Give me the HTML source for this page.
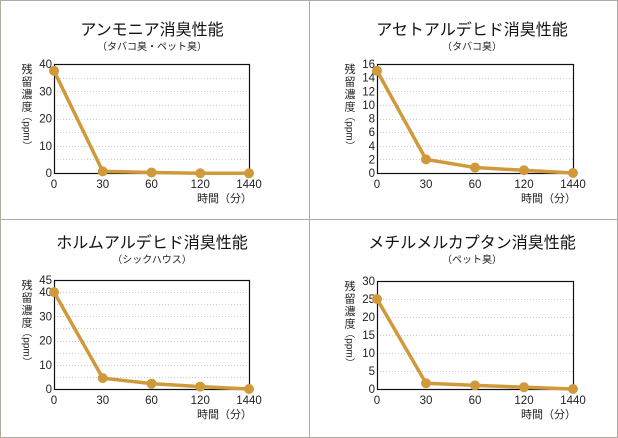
<!DOCTYPE html>
<html><head><meta charset="utf-8"><style>
html,body{margin:0;padding:0;background:#fff}
svg{display:block;font-family:"Liberation Sans","Noto Sans CJK JP",sans-serif}
</style></head><body>
<svg id="s" width="618" height="438" xmlns="http://www.w3.org/2000/svg">
<rect x="0.5" y="0.5" width="617" height="437" fill="#fff" stroke="#b3aa9e"/>
<line x1="309.5" y1="0" x2="309.5" y2="438" stroke="#b3aa9e"/>
<line x1="0" y1="219.5" x2="618" y2="219.5" stroke="#b3aa9e"/>
</svg>
<script>
var s=document.getElementById('s'),NS='http://www.w3.org/2000/svg';
function el(t,a,txt){var e=document.createElementNS(NS,t);for(var k in a)e.setAttribute(k,a[k]);if(txt!==undefined)e.textContent=txt;s.appendChild(e);return e;}
var P=[
{L:54,R:249,T:64,B:173,cx:152,ty:35,title:"アンモニア消臭性能",sub:"（タバコ臭・ペット臭）",max:40,labels:[0,10,20,30,40],grid:5,d:[37.5,0.6,0.2,-0.1,-0.1]},
{L:377,R:573,T:64,B:173,cx:472,ty:35,title:"アセトアルデヒド消臭性能",sub:"（タバコ臭）",max:16,labels:[0,2,4,6,8,10,12,14,16],grid:2,d:[15,2,0.8,0.4,0]},
{L:54,R:249,T:280,B:389,cx:152,ty:248,title:"ホルムアルデヒド消臭性能",sub:"（シックハウス）",max:45,labels:[0,10,20,30,40,45],grid:5,d:[40,4.5,2.2,1,0]},
{L:377,R:573,T:281,B:389,cx:472,ty:248,title:"メチルメルカプタン消臭性能",sub:"（ペット臭）",max:30,labels:[0,5,10,15,20,25,30],grid:5,d:[25,1.6,1,0.5,0]}
];
var xl=["0","30","60","120","1440"];
P.forEach(function(p){
 el('text',{x:p.cx,y:p.ty,'text-anchor':'middle','font-size':'16','fill':'#111'},p.title);
 el('text',{x:p.cx,y:p.ty+15,'text-anchor':'middle','font-size':'10','fill':'#222'},p.sub);
 var H=p.B-p.T,W=p.R-p.L;
 function Y(v){return p.B-v/p.max*H;}
 for(var g=p.grid;g<p.max;g+=p.grid){var y=Math.round(Y(g))+0.5;el('line',{x1:p.L,y1:y,x2:p.R,y2:y,stroke:'#ccc','stroke-width':1,'stroke-dasharray':'1,2'});}
 el('rect',{x:p.L+0.5,y:p.T+0.5,width:W,height:H,fill:'none',stroke:'#111','stroke-width':1.2});
 p.labels.forEach(function(v){el('text',{x:p.L-2,y:Y(v)+4,'text-anchor':'end','font-size':'11.5','fill':'#222'},v);});
 var pts=[];
 for(var i=0;i<5;i++){var x=p.L+W*i/4;el('text',{x:x,y:p.B+15,'text-anchor':'middle','font-size':'11.5','fill':'#222'},xl[i]);pts.push([x,Y(p.d[i])]);}
 el('text',{x:p.R+3,y:p.B+29,'text-anchor':'end','font-size':'11','fill':'#222'},'時間（分）');
 var lx=p.L-27, chars=['残','留','濃','度'];
 chars.forEach(function(c,k){el('text',{x:lx,y:p.T+9+k*12.5,'text-anchor':'middle','font-size':'11','fill':'#222'},c);});
 var cy=p.T+5+4*12.5+12;
 el('text',{x:lx,y:cy,'text-anchor':'middle','font-size':'10','fill':'#222',transform:'rotate(90 '+lx+' '+cy+') translate(0 3.5)'},'（ppm）');
 el('polyline',{points:pts.map(function(q){return q.join(',')}).join(' '),fill:'none',stroke:'#d09a3c','stroke-width':3.5,'stroke-linejoin':'round'});
 pts.forEach(function(q){el('circle',{cx:q[0],cy:q[1],r:5,fill:'#d09a3c'});});
});
</script>
</body></html>
